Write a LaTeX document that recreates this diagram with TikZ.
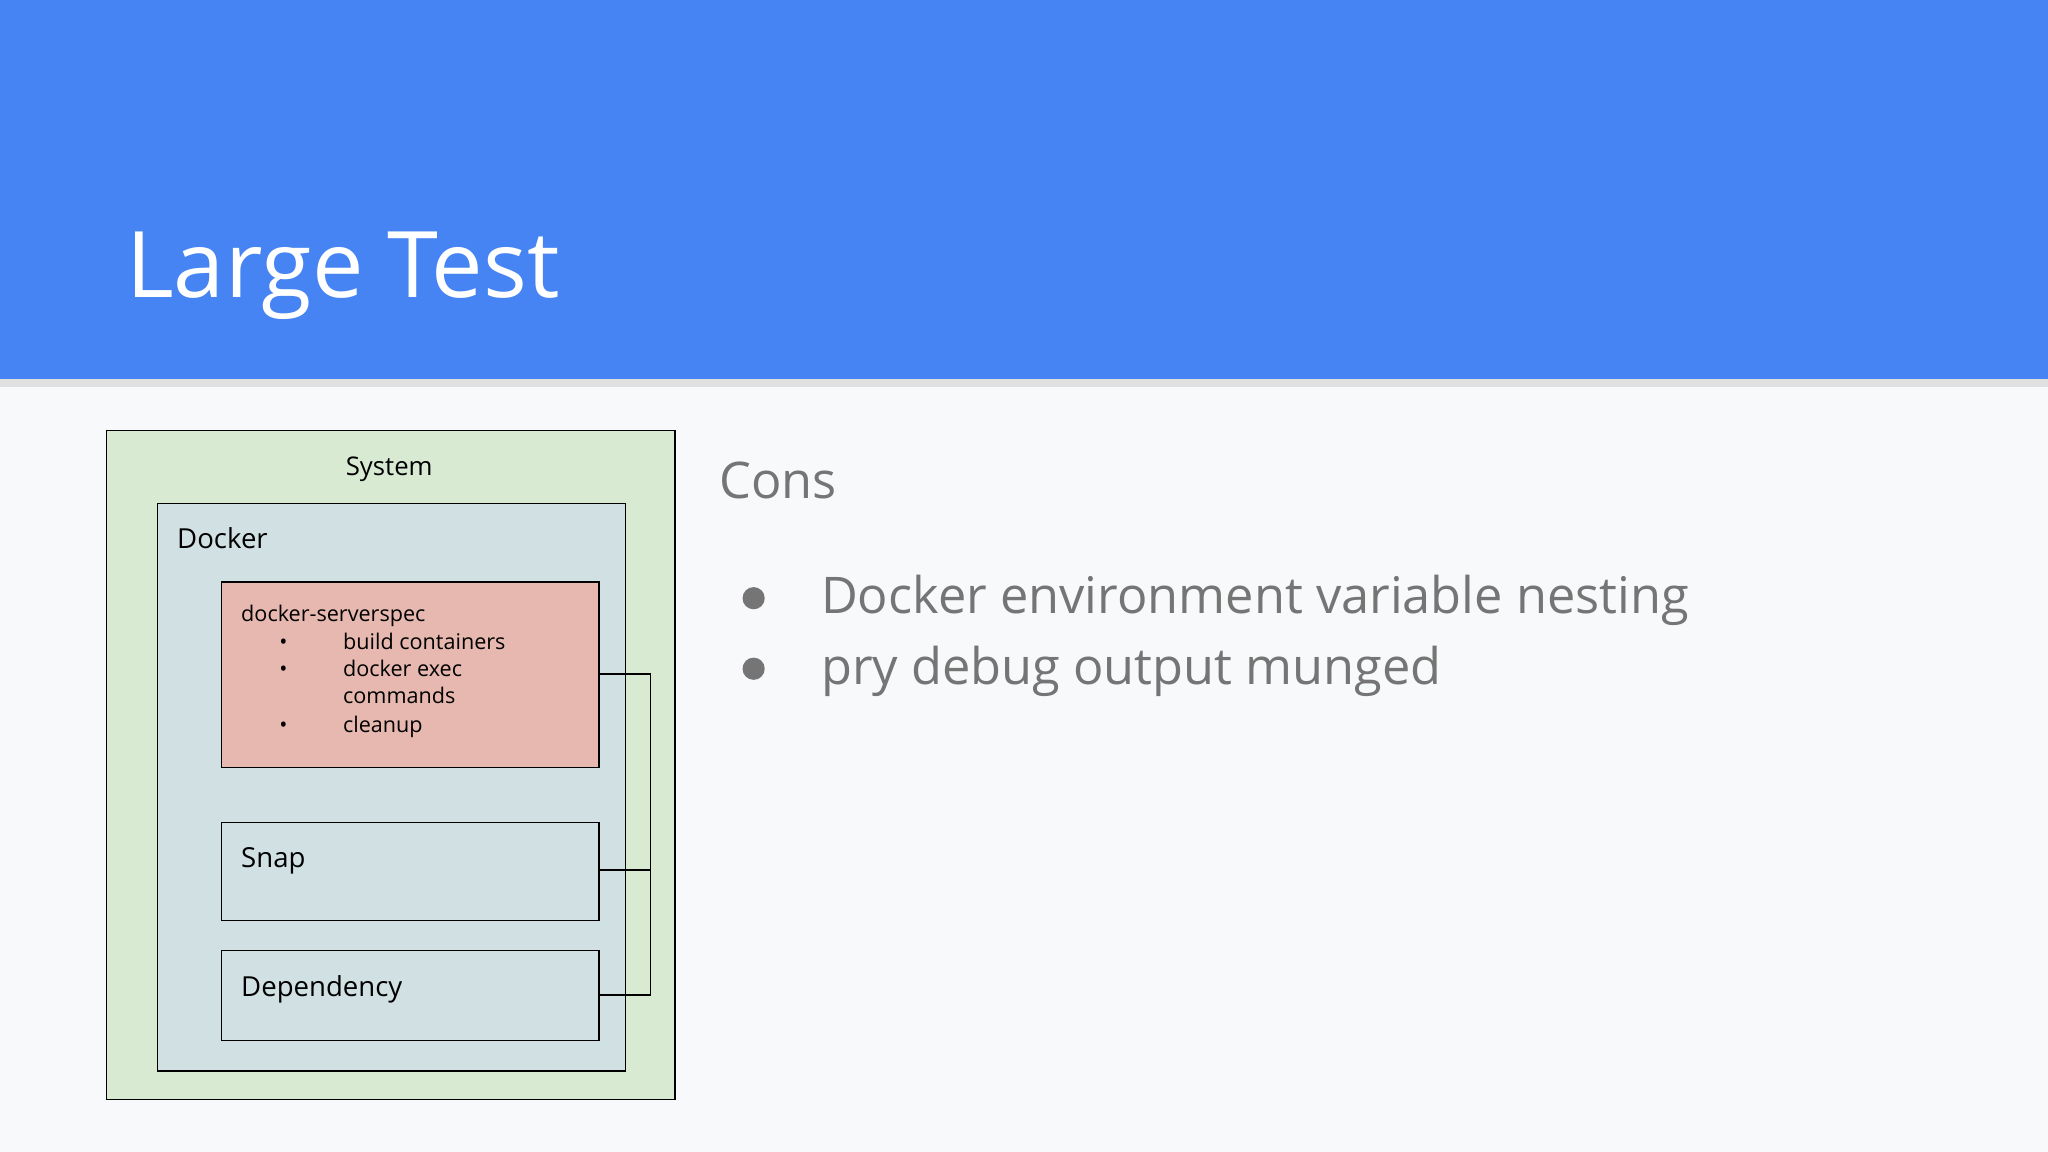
\documentclass[tikz,border=0pt]{standalone}
\usepackage{fontspec}
\setmainfont{Open Sans}
\definecolor{hdr}{HTML}{4684F3}
\definecolor{bg}{HTML}{F8F9FB}
\definecolor{grn}{HTML}{D9EAD3}
\definecolor{bgr}{HTML}{D0E0E3}
\definecolor{pnk}{HTML}{E6B8AF}
\definecolor{txt}{HTML}{757575}
\tikzset{box/.style={draw=black,line width=0.35pt,inner sep=0,anchor=north west}}
\begin{document}
\begin{tikzpicture}[x=0.01cm,y=-0.01cm]
\useasboundingbox (0,0) rectangle (1568,882);
\fill[bg] (0,0) rectangle (1568,882);
\fill[black!12] (0,290) rectangle (1568,296);
\fill[hdr] (0,0) rectangle (1568,290);
\node[anchor=base west,text=white,font=\fontsize{20}{24}\selectfont,inner sep=0] (title) at (96,228) {Large Test};
\node[box,fill=grn,minimum width=435\pgflinewidth*0+4.35cm,minimum height=5.12cm] (sys) at (81,329) {};
\node[anchor=base,font=\fontsize{5.6}{7}\selectfont,inner sep=0] (syst) at (298,364) {System};
\node[box,fill=bgr,minimum width=3.58cm,minimum height=4.34cm] (dock) at (120,385) {};
\node[anchor=base west,font=\fontsize{6}{7}\selectfont,inner sep=0] (dockt) at (135,420) {Docker};
\node[box,fill=pnk,minimum width=2.89cm,minimum height=1.42cm] (ds) at (169,445) {};
\node[anchor=base west,font=\fontsize{4.7}{6}\selectfont,inner sep=0] (dst) at (184,476) {docker-serverspec};
\foreach \y/\t/\b in {497/build containers/1,518/docker exec/1,539/commands/0,561/cleanup/1}{
  \node[anchor=base west,font=\fontsize{4.7}{6}\selectfont,inner sep=0] at (262,\y) {\t};
  \ifnum\b=1 \node[anchor=base,font=\fontsize{4.7}{6}\selectfont,inner sep=0] at (217,\y) {•};\fi
}
\node[box,minimum width=2.89cm,minimum height=0.75cm] (snap) at (169,629) {};
\node[anchor=base west,font=\fontsize{6}{7}\selectfont,inner sep=0] (snapt) at (184,664) {Snap};
\node[box,minimum width=2.89cm,minimum height=0.69cm] (dep) at (169,727) {};
\node[anchor=base west,font=\fontsize{6}{7}\selectfont,inner sep=0] (dept) at (184,763) {Dependency};
\coordinate (r1) at (458,516);
\coordinate (r2) at (458,666);
\coordinate (r3) at (458,762);
\draw[line width=0.35pt] (r1) -- (498,516) -- (498,762) -- (r3);
\draw[line width=0.35pt] (r2) -- (498,666);
\node[anchor=base west,text=txt,font=\fontsize{11}{13}\selectfont,inner sep=0] (cons) at (550,382) {Cons};
\node[anchor=base west,text=txt,font=\fontsize{11}{13}\selectfont,inner sep=0] (b1) at (628,470) {Docker environment variable nesting};
\node[anchor=base west,text=txt,font=\fontsize{11}{13}\selectfont,inner sep=0] (b2) at (628,524) {pry debug output munged};
\fill[txt] (577,458) circle (8.5);
\fill[txt] (577,512) circle (8.5);
\end{tikzpicture}
\end{document}
